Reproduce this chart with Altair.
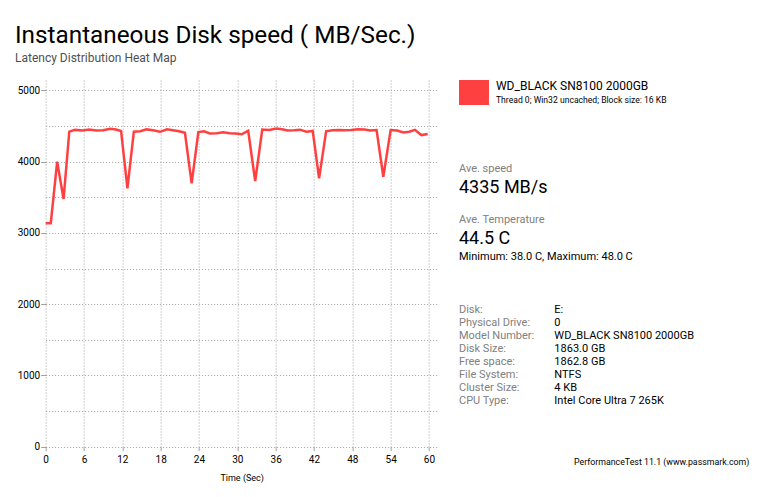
import altair as alt
import pandas as pd

FONT = "Roboto"
RED = "#ff4040"
GRAY = "#808080"

# ---- data ----
time_s = [0, 0.8, 1.8, 2.8, 3.7, 4.6, 5.8, 6.8, 7.9, 9.0, 10.1, 11.0, 11.8, 12.8,
          13.8, 14.8, 15.8, 16.8, 17.9, 19.0, 19.9, 20.9, 21.8, 22.85,
          23.9, 24.8, 25.7, 26.8, 27.8, 28.8, 29.7, 30.7, 31.7, 32.8,
          33.9, 35.0, 36.1, 37.0, 37.9, 38.9, 39.8, 40.8, 41.8, 42.8,
          43.9, 44.9, 45.9, 46.8, 47.8, 48.9, 49.9, 50.8, 51.8, 52.85,
          54.0, 55.0, 56.0, 56.9, 57.8, 58.8, 59.8]
speed_mb = [3135, 3135, 4000, 3475, 4420, 4445, 4435, 4450, 4435, 4440, 4460, 4450, 4430, 3625,
            4420, 4425, 4452, 4440, 4418, 4452, 4440, 4425, 4405, 3695,
            4415, 4425, 4395, 4398, 4410, 4398, 4395, 4383, 4433, 3727,
            4450, 4445, 4465, 4455, 4438, 4440, 4448, 4420, 4430, 3765,
            4425, 4440, 4442, 4440, 4445, 4455, 4450, 4435, 4443, 3788,
            4443, 4435, 4408, 4420, 4445, 4372, 4388]

series_name = "WD_BLACK SN8100 2000GB"
series_sub = "Thread 0; Win32 uncached; Block size: 16 KB"
x_ticks = [0, 6, 12, 18, 24, 30, 36, 42, 48, 54, 60]
y_grid = [0, 500, 1000, 1500, 2000, 2500, 3000, 3500, 4000, 4500, 5000]

title_text = "Instantaneous Disk speed ( MB/Sec.)"
subtitle_text = "Latency Distribution Heat Map"
stat_labels = ["Ave. speed", "Ave. Temperature"]
stat_values = ["4335 MB/s", "44.5 C"]
temp_range = "Minimum: 38.0 C, Maximum: 48.0 C"
info_labels = ["Disk:", "Physical Drive:", "Model Number:", "Disk Size:",
               "Free space:", "File System:", "Cluster Size:", "CPU Type:"]
info_values = ["E:", "0", "WD_BLACK SN8100 2000GB", "1863.0 GB",
               "1862.8 GB", "NTFS", "4 KB", "Intel Core Ultra 7 265K"]
footer_text = "PerformanceTest 11.1 (www.passmark.com)"

W = 392
H = 366.67

df = pd.DataFrame({"t": time_s, "v": speed_mb, "series": series_name})

line = alt.Chart(df).mark_line(color=RED, strokeWidth=2.5).encode(
    x=alt.X("t:Q",
            scale=alt.Scale(domain=[0, 61.36], nice=False, zero=False),
            axis=alt.Axis(values=x_ticks, format="d", title="Time (Sec)",
                          titleFontSize=9, titleFont=FONT, titleFontWeight="normal",
                          titlePadding=9, labelPadding=4, tickSize=4,
                          labelFlush=False)),
    y=alt.Y("v:Q",
            scale=alt.Scale(domain=[0, 5145], nice=False),
            axis=alt.Axis(values=y_grid, format="d", title=None,
                          labelExpr="datum.value % 1000 === 0 ? datum.label : ''",
                          tickOpacity={"condition": {"test": "datum.value % 1000 === 0", "value": 1}, "value": 0},
                          tickSize=5, labelPadding=1, labelFlush=False)),
)


def txt(s, x, y, size, color="#000000"):
    return alt.Chart(pd.DataFrame({"s": [s]})).mark_text(
        align="left", baseline="alphabetic", fontSize=size, color=color, font=FONT
    ).encode(x=alt.value(x), y=alt.value(y), text="s:N")


swatch = alt.Chart(pd.DataFrame({"series": [series_name]})).mark_rect(color=RED).encode(
    x=alt.value(413.3), x2=alt.value(443.3), y=alt.value(0), y2=alt.value(25)
)

info_df = pd.DataFrame({"l": ["\n".join(info_labels)], "r": ["\n".join(info_values)]})
info_l = alt.Chart(info_df).mark_text(
    align="left", baseline="alphabetic", fontSize=11, color=GRAY, font=FONT,
    lineBreak="\n", lineHeight=13
).encode(x=alt.value(413.3), y=alt.value(232.7), text="l:N")
info_r = alt.Chart(info_df).mark_text(
    align="left", baseline="alphabetic", fontSize=11, color="#000000", font=FONT,
    lineBreak="\n", lineHeight=13
).encode(x=alt.value(508.7), y=alt.value(232.7), text="r:N")

chart = alt.layer(
    line,
    swatch,
    txt(title_text, -30.67, -36.7, 24.3),
    txt(subtitle_text, -30.67, -18.3, 12, "#505050"),
    txt(series_name, 450.3, 10, 12),
    txt(series_sub, 450.3, 22.7, 8.6),
    txt(stat_labels[0], 413.3, 91.7, 11, GRAY),
    txt(stat_values[0], 413.3, 113.3, 18),
    txt(stat_labels[1], 413.3, 142.7, 11, GRAY),
    txt(stat_values[1], 413.3, 164.3, 18),
    txt(temp_range, 413.3, 180, 11),
    info_l,
    info_r,
    txt(footer_text, 528.3, 385, 8.8),
).properties(
    width=W, height=H,
    padding={"left": 37.67, "top": 72, "right": 338.33, "bottom": 42.33},
    autosize=alt.AutoSizeParams(type="none"),
    background="white",
).configure_view(stroke=None).configure_axis(
    domain=False,
    grid=True,
    gridColor="#a0a0a0",
    gridDash=[1, 2],
    gridWidth=1,
    tickColor="#a0a0a0",
    labelColor="#000000",
    labelFont=FONT,
    labelFontSize=10,
    titleColor="#000000",
)

chart.save("out.html", embed_options={"renderer": "svg", "actions": False})
